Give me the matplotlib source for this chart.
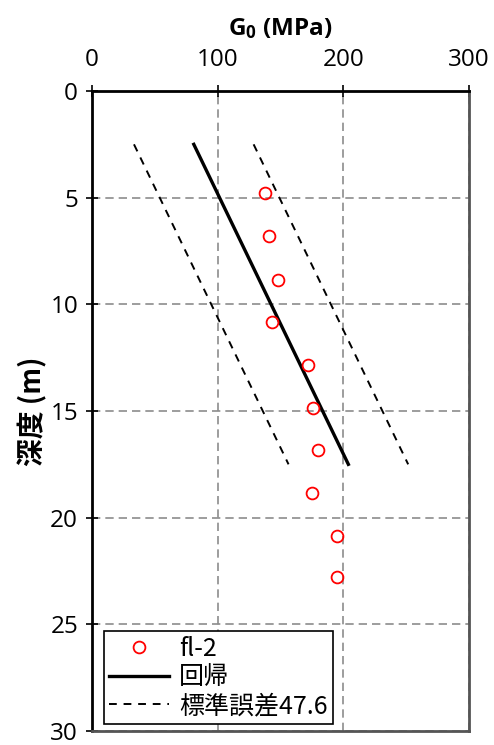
import matplotlib
matplotlib.use("Agg")
import matplotlib.pyplot as plt
import numpy as np

plt.rcParams['font.family'] = ['Open Sans', 'Noto Sans CJK JP', 'DejaVu Sans']
plt.rcParams['mathtext.fontset'] = 'custom'
plt.rcParams['mathtext.rm'] = 'Open Sans'
plt.rcParams['mathtext.bf'] = 'Open Sans:bold'

# data
depth_pts = [4.8, 6.8, 8.85, 10.85, 12.85, 14.85, 16.85, 18.85, 20.85, 22.8]
g0_pts = [138, 141, 148, 143, 172, 176, 180, 175, 195, 195]
reg_depth = [2.5, 17.5]
reg_g0 = [81, 204]
std_err = 47.6
xticks = [0, 100, 200, 300]
yticks = [0, 5, 10, 15, 20, 25, 30]

W, H = 494, 745
fig = plt.figure(figsize=(W/100, H/100), dpi=100)
ax = fig.add_axes([92/W, 1-731/H, (469-92)/W, (731-91)/H])

ax.set_xlim(0, 300)
ax.set_ylim(30, 0)
ax.xaxis.tick_top()
ax.xaxis.set_label_position('top')
ax.set_xticks(xticks)
ax.set_yticks(yticks)
ax.tick_params(direction='inout', length=8, width=1.2, labelsize=17.5, pad=6)
ax.tick_params(axis='x', pad=10)

ax.grid(True, linestyle=(0, (5, 3)), color='#8c8c8c', linewidth=1.2)
ax.set_axisbelow(True)
for s in ['top', 'left']:
    ax.spines[s].set_linewidth(2)
    ax.spines[s].set_color('black')
for s in ['right', 'bottom']:
    ax.spines[s].set_linewidth(2)
    ax.spines[s].set_color('#555555')

ax.plot(g0_pts, depth_pts, 'o', mfc='none', mec='red', ms=8.5, mew=1.3, label='fl-2', zorder=4)
ax.plot(reg_g0, reg_depth, '-', color='black', lw=2.4, label='回帰', zorder=3)
ax.plot([g - std_err for g in reg_g0], reg_depth, '--', color='black', lw=1.4,
        dashes=(4, 3.5), label='標準誤差47.6', zorder=3)
ax.plot([g + std_err for g in reg_g0], reg_depth, '--', color='black', lw=1.4,
        dashes=(4, 3.5), zorder=3)

ax.set_xlabel(r'$\mathbf{G_0}$ (MPa)', fontsize=17.5, fontweight='bold', labelpad=9)
ax.set_ylabel('深度 (m)', fontsize=20, fontweight='bold', labelpad=2,
              family=['Noto Sans CJK JP', 'DejaVu Sans'])

leg = ax.legend(loc='lower left', bbox_to_anchor=(0.032, 0.011), fontsize=18,
                frameon=True, fancybox=False, edgecolor='black', framealpha=1,
                borderpad=0.2, labelspacing=0.1, handlelength=2.4, handletextpad=0.4,
                borderaxespad=0, prop={'family': ['Noto Sans CJK JP', 'DejaVu Sans'], 'size': 18})
leg.get_frame().set_linewidth(1.2)

fig.savefig('out.png', dpi=100)
